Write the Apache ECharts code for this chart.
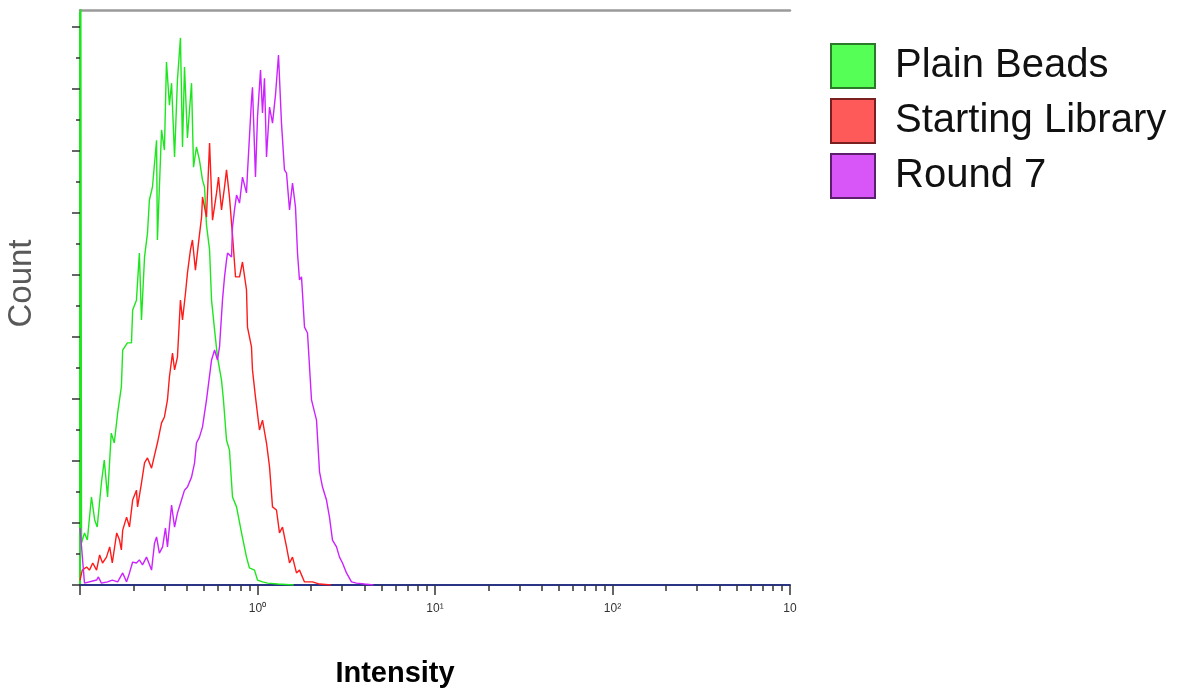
<!DOCTYPE html>
<html>
<head>
<meta charset="utf-8">
<script src="https://cdn.jsdelivr.net/npm/echarts@6/dist/echarts.min.js"></script>
<style>
  html, body { margin: 0; padding: 0; background: #fff; }
  #chart { width: 1195px; height: 691px; }
</style>
</head>
<body>
<div id="chart"></div>
<script>
// ---- Data (intensity, count) ----
const seriesNames = ['Plain Beads', 'Starting Library', 'Round 7'];

const plainBeads = [
  [0.1, 400], [0.102, 13.5], [0.106, 16.8], [0.110, 14.5], [0.116, 28.4], [0.121, 21.0],
  [0.125, 18.7], [0.132, 32.9], [0.137, 40.3], [0.143, 28.4], [0.150, 49.0], [0.156, 45.8],
  [0.163, 55.5], [0.171, 63.9], [0.174, 75.8], [0.185, 78.1], [0.195, 78.1], [0.198, 88.7],
  [0.208, 91.9], [0.216, 107.1], [0.222, 85.5], [0.231, 105.8], [0.240, 113.5], [0.246, 124.2],
  [0.256, 128.4], [0.270, 143.5], [0.273, 111.3], [0.288, 146.8], [0.299, 140.3], [0.307, 168.7],
  [0.319, 154.8], [0.328, 161.9], [0.341, 138.1], [0.354, 162.9], [0.368, 176.5], [0.378, 141.3],
  [0.388, 167.1], [0.403, 144.2], [0.425, 161.9], [0.436, 134.8], [0.453, 141.3], [0.471, 137.1],
  [0.490, 130.6], [0.503, 128.4], [0.516, 116.1], [0.537, 108.1], [0.551, 91.9], [0.573, 82.3],
  [0.595, 73.5], [0.627, 66.1], [0.643, 59.7], [0.669, 46.8], [0.695, 43.5], [0.723, 28.4],
  [0.762, 25.2], [0.813, 16.8], [0.867, 9.0], [0.901, 5.5], [0.962, 4.8], [1.0, 1.6],
  [1.067, 1.0], [1.14, 0.6], [1.3, 0.3], [1.6, 0]
];

const startingLibrary = [
  [0.1, 1.5], [0.102, 1.6], [0.103, 4.8], [0.109, 5.8], [0.113, 4.8], [0.118, 7.1], [0.124, 4.8],
  [0.129, 9.7], [0.134, 7.1], [0.141, 9.0], [0.147, 12.3], [0.152, 7.1], [0.161, 16.8],
  [0.167, 14.5], [0.171, 11.3], [0.174, 17.7], [0.183, 21.9], [0.190, 18.7], [0.198, 27.4],
  [0.208, 30.6], [0.211, 25.2], [0.222, 32.9], [0.231, 39.4], [0.240, 41.0], [0.253, 37.7],
  [0.263, 41.9], [0.273, 45.8], [0.288, 52.3], [0.299, 54.2], [0.311, 59.7], [0.319, 67.1],
  [0.332, 74.8], [0.341, 69.4], [0.354, 73.5], [0.368, 91.9], [0.378, 85.5], [0.393, 94.2],
  [0.403, 100.6], [0.419, 108.1], [0.430, 111.3], [0.447, 101.6], [0.465, 110.3], [0.484, 118.7],
  [0.490, 125.2], [0.516, 118.7], [0.537, 142.6], [0.558, 117.7], [0.588, 126.5], [0.603, 131.6],
  [0.627, 121.0], [0.652, 128.4], [0.669, 133.9], [0.695, 125.2], [0.723, 112.9], [0.752, 99.4],
  [0.792, 99.4], [0.823, 104.2], [0.867, 95.2], [0.878, 83.2], [0.925, 76.8], [0.937, 69.4],
  [0.974, 60.6], [1.026, 50.0], [1.067, 53.2], [1.124, 45.8], [1.169, 38.1], [1.215, 25.2],
  [1.279, 24.2], [1.330, 16.8], [1.383, 18.7], [1.457, 12.3], [1.515, 7.1], [1.575, 9.0],
  [1.658, 3.9], [1.724, 4.8], [1.840, 1.0], [2.041, 1.0], [2.236, 0.3], [2.6, 0]
];

const round7 = [
  [0.1, 18.4], [0.106, 0.6], [0.124, 1.6], [0.127, 2.6], [0.132, 0.6], [0.143, 1.0],
  [0.152, 1.6], [0.163, 1.0], [0.174, 3.9], [0.183, 1.0], [0.190, 3.9], [0.198, 7.4],
  [0.208, 7.1], [0.216, 8.1], [0.225, 6.5], [0.237, 9.0], [0.253, 4.8], [0.263, 13.5],
  [0.270, 15.5], [0.280, 10.3], [0.292, 12.3], [0.303, 18.4], [0.311, 12.3], [0.328, 25.8],
  [0.341, 18.7], [0.354, 23.2], [0.373, 27.4], [0.388, 30.6], [0.403, 31.6], [0.425, 34.8],
  [0.442, 39.4], [0.453, 45.8], [0.471, 47.7], [0.490, 51.0], [0.516, 59.7], [0.551, 72.6],
  [0.573, 75.8], [0.595, 72.6], [0.611, 76.8], [0.635, 91.9], [0.652, 99.4], [0.669, 104.8],
  [0.678, 107.1], [0.714, 105.8], [0.723, 115.5], [0.742, 121.0], [0.762, 125.8], [0.792, 123.2],
  [0.823, 131.6], [0.867, 126.5], [0.878, 132.9], [0.925, 156.5], [0.937, 160.6], [0.974, 131.6],
  [1.0, 151.0], [1.040, 166.1], [1.067, 152.3], [1.095, 163.5], [1.124, 138.1], [1.169, 154.2],
  [1.215, 149.0], [1.263, 158.1], [1.313, 171.0], [1.365, 149.0], [1.419, 133.9], [1.457, 132.9],
  [1.515, 121.0], [1.575, 129.7], [1.637, 121.9], [1.680, 107.1], [1.724, 98.4], [1.770, 99.4],
  [1.840, 83.2], [1.913, 81.3], [2.015, 59.7], [2.150, 53.2], [2.236, 36.5], [2.324, 31.6],
  [2.447, 27.4], [2.544, 21.9], [2.645, 14.5], [2.787, 12.3], [2.897, 9.0], [3.012, 7.1],
  [3.172, 3.9], [3.385, 1.0], [3.612, 0.6], [4.007, 0.3], [4.5, 0]
];

// Axis tick values / labels
const xDecadeExponents = [-1, 0, 1, 2, 3];
const xTickLabels = ['', '10\u2070', '10\u00B9', '10\u00B2', '10'];
const xMinorTicks = [0.2, 0.3, 0.4, 0.5, 0.6, 0.7, 0.8, 0.9,
                     2, 3, 4, 5, 6, 7, 8, 9,
                     20, 30, 40, 50, 60, 70, 80, 90,
                     200, 300, 400, 500, 600, 700, 800, 900];
const yMajorTicks = [0, 20, 40, 60, 80, 100, 120, 140, 160, 180];
const yMinorTicks = [10, 30, 50, 70, 90, 110, 130, 150, 170];
const yMax = 185.5;

const lineColors = ['#1ee61e', '#ff1a1a', '#cc22ff'];
const swatchFill = ['#55ff55', '#ff5a5a', '#d855f8'];
const swatchBorder = ['#2a7a2a', '#7a1f1f', '#5c1f6e'];

const chart = echarts.init(document.getElementById('chart'), null, { renderer: 'canvas' });

const option = {
  animation: false,
  backgroundColor: '#ffffff',
  grid: { left: 80, right: 405, top: 10, bottom: 106, containLabel: false, outerBoundsMode: 'none' },
  legend: {
    orient: 'vertical',
    left: 830,
    top: 43,
    padding: 0,
    itemWidth: 44,
    itemHeight: 44,
    itemGap: 9,
    icon: 'rect',
    selectedMode: false,
    textStyle: {
      fontFamily: 'Liberation Sans, Arial, sans-serif',
      fontSize: 40,
      lineHeight: 44,
      color: '#111111',
      padding: [0, 0, 0, 15]
    },
    data: seriesNames.map((n, i) => ({
      name: n,
      itemStyle: { color: swatchFill[i], borderColor: swatchBorder[i], borderWidth: 2 }
    }))
  },
  xAxis: [
    {
      type: 'log',
      logBase: 10,
      min: 0.1,
      max: 1000,
      position: 'bottom',
      name: 'Intensity',
      nameLocation: 'middle',
      nameGap: 74,
      nameTextStyle: {
        fontFamily: 'Liberation Sans, Arial, sans-serif',
        fontSize: 29,
        fontWeight: 'bold',
        color: '#000000',
        padding: [0, 80, 0, 0]
      },
      axisLine: { show: true, onZero: false, lineStyle: { color: '#2a3585', width: 2 } },
      axisTick: { show: true, length: 10, lineStyle: { color: '#333333', width: 1.5 } },
      axisLabel: {
        show: true,
        showMinLabel: true,
        showMaxLabel: true,
        margin: 18,
        fontFamily: 'Liberation Sans Narrow, Liberation Sans, Arial, sans-serif',
        fontSize: 12,
        color: '#333333',
        formatter: function (v) {
          const e = Math.round(Math.log10(v));
          const idx = xDecadeExponents.indexOf(e);
          return idx >= 0 ? xTickLabels[idx] : '';
        }
      },
      splitLine: { show: false },
      minorTick: { show: false }
    },
    {
      type: 'value',
      min: -1,
      max: 3,
      position: 'bottom',
      axisLine: { show: false, onZero: false },
      axisTick: {
        show: true,
        length: 6,
        customValues: xMinorTicks.map(v => Math.log10(v)),
        lineStyle: { color: '#333333', width: 1.5 }
      },
      axisLabel: { show: false },
      splitLine: { show: false }
    },
    {
      type: 'value',
      min: 0,
      max: 1,
      position: 'top',
      axisLine: { show: true, onZero: false, lineStyle: { color: '#9a9a9a', width: 2.5 } },
      axisTick: { show: false },
      axisLabel: { show: false },
      splitLine: { show: false }
    }
  ],
  yAxis: [
    {
      type: 'value',
      min: 0,
      max: yMax,
      position: 'left',
      name: 'Count',
      nameLocation: 'middle',
      nameRotate: 90,
      nameGap: 42,
      nameTextStyle: {
        fontFamily: 'Liberation Sans, Arial, sans-serif',
        fontSize: 33,
        color: '#595959',
        padding: [0, 0, 0, 28]
      },
      axisLine: { show: true, onZero: false, lineStyle: { color: '#1ee61e', width: 2 } },
      axisTick: {
        show: true,
        length: 8,
        customValues: yMajorTicks,
        lineStyle: { color: '#333333', width: 1.5 }
      },
      axisLabel: { show: false },
      splitLine: { show: false }
    },
    {
      type: 'value',
      min: 0,
      max: yMax,
      position: 'left',
      axisLine: { show: false, onZero: false },
      axisTick: {
        show: true,
        length: 4,
        customValues: yMinorTicks,
        lineStyle: { color: '#333333', width: 1.5 }
      },
      axisLabel: { show: false },
      splitLine: { show: false }
    }
  ],
  series: [plainBeads, startingLibrary, round7].map((d, i) => ({
    name: seriesNames[i],
    type: 'line',
    xAxisIndex: 0,
    yAxisIndex: 0,
    data: d,
    showSymbol: false,
    symbol: 'none',
    clip: true,
    color: lineColors[i],
    lineStyle: { color: lineColors[i], width: 1.4 },
    itemStyle: { color: swatchFill[i] },
    z: 2 + i
  }))
};

chart.setOption(option);
</script>
</body>
</html>
